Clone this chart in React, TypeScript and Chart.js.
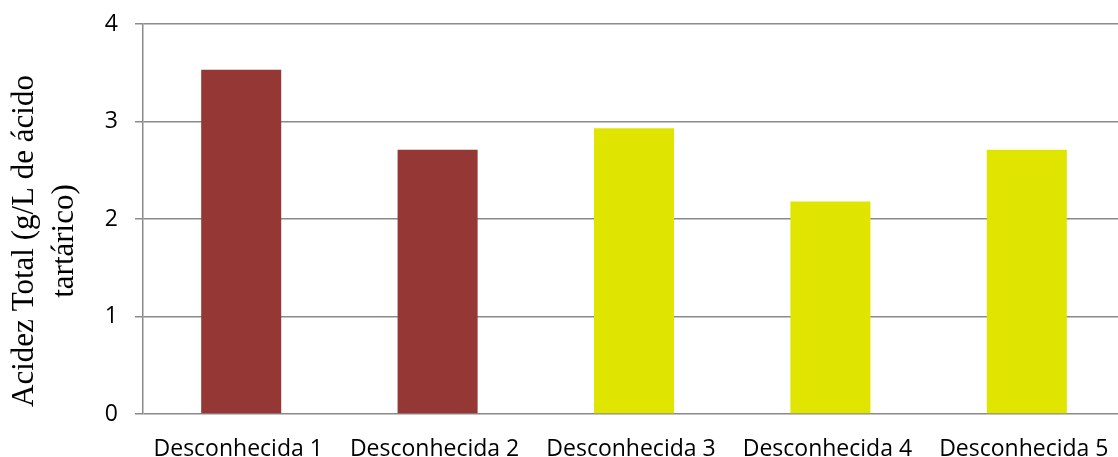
import React, { useEffect, useRef } from "react";
import { Chart, registerables } from "chart.js";

Chart.register(...registerables);

const categories = ["Desconhecida 1", "Desconhecida 2", "Desconhecida 3", "Desconhecida 4", "Desconhecida 5"];
const values = [3.53, 2.71, 2.93, 2.18, 2.71];
const barColors = ["#953735", "#953735", "#E0E500", "#E0E500", "#E0E500"];
const yTitleLines = ["Acidez Total (g/L de ácido", "tartárico)"];
const yTicks = [0, 1, 2, 3, 4];

const yTitlePlugin = {
  id: "yTitlePlugin",
  afterDraw(chart: any) {
    const { ctx, chartArea } = chart;
    const cy = (chartArea.top + chartArea.bottom) / 2 + 22;
    ctx.save();
    ctx.fillStyle = "#000";
    ctx.font = "31px 'Liberation Serif', serif";
    ctx.textAlign = "center";
    ctx.textBaseline = "middle";
    const xs = [25, 65];
    yTitleLines.forEach((line, i) => {
      ctx.save();
      ctx.translate(xs[i], cy);
      ctx.rotate(-Math.PI / 2);
      ctx.fillText(line, 0, 0);
      ctx.restore();
    });
    ctx.restore();
  },
};

export default function App() {
  const ref = useRef<HTMLCanvasElement | null>(null);
  useEffect(() => {
    if (!ref.current) return;
    const chart = new Chart(ref.current, {
      type: "bar",
      data: {
        labels: categories,
        datasets: [
          {
            data: values,
            backgroundColor: barColors,
            barPercentage: 0.815,
            categoryPercentage: 0.5,
          },
        ],
      },
      options: {
        animation: false,
        responsive: false,
        maintainAspectRatio: false,
        layout: { padding: { top: 24, right: 0, left: 0, bottom: 0 } },
        plugins: { legend: { display: false }, tooltip: { enabled: false } },
        scales: {
          x: {
            grid: { display: false, drawTicks: false },
            border: { display: false },
            ticks: {
              color: "#000",
              font: { family: "Open Sans", size: 23 },
              padding: 22,
              labelOffset: -3,
              maxRotation: 0,
              autoSkip: false,
            },
            afterFit: (s: any) => {
              s.height = 43;
              s.paddingLeft = 0;
              s.paddingRight = 0;
            },
          },
          y: {
            min: 0,
            max: 4,
            afterBuildTicks: (s: any) => {
              s.ticks = yTicks.map((v) => ({ value: v }));
            },
            grid: { color: "#8a8a8a", lineWidth: 1.5, tickLength: 8, drawTicks: true },
            border: { display: true, color: "#8a8a8a", width: 1.5 },
            ticks: {
              color: "#000",
              font: { family: "Open Sans", size: 23 },
              padding: 17,
            },
            afterFit: (s: any) => {
              s.width = 143;
              s.paddingTop = 0;
              s.paddingBottom = 0;
            },
          },
        },
      },
      plugins: [yTitlePlugin],
    });
    return () => chart.destroy();
  }, []);
  return (
    <div style={{ position: "fixed", left: 0, top: 0, width: 1118, height: 457, background: "#fff", overflow: "hidden" }}>
      <canvas ref={ref} width={1125} height={457} style={{ display: "block" }} />
    </div>
  );
}
